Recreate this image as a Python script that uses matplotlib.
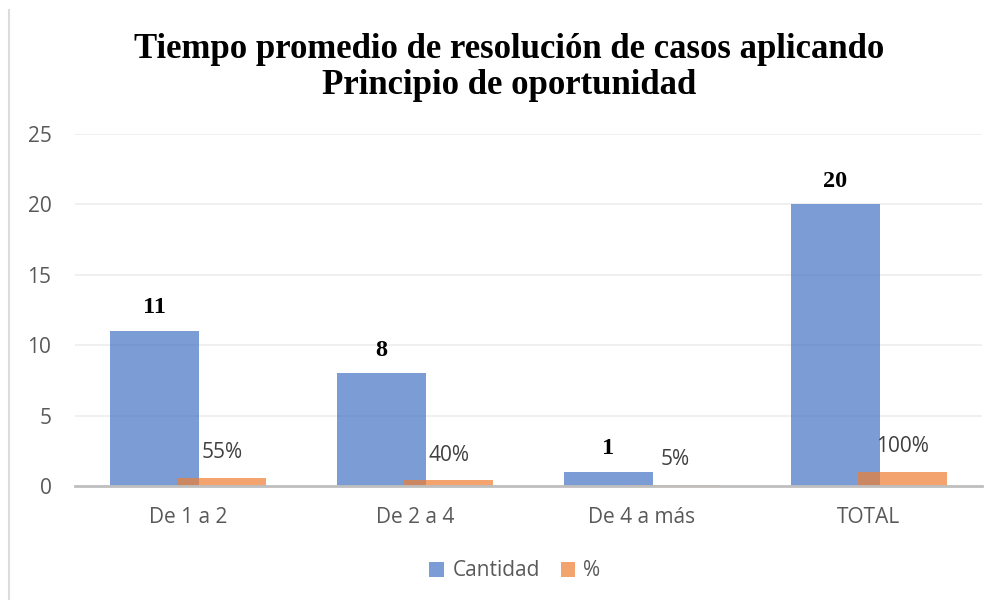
import numpy as np
import matplotlib.pyplot as plt
from matplotlib.lines import Line2D

categorias = ['De 1 a 2', 'De 2 a 4', 'De 4 a más', 'TOTAL']
cantidad = [11, 8, 1, 20]
porcentaje = [0.55, 0.40, 0.05, 1.00]
etiquetas_pct = ['55%', '40%', '5%', '100%']
y_ticks = [0, 5, 10, 15, 20, 25]

azul = '#4472C4'
naranja = '#ED7D31'

fig = plt.figure(figsize=(9.97, 6), dpi=100)
ax = fig.add_axes([75 / 997, 1 - 486 / 600, 907 / 997, (486 - 134) / 600])

x = np.arange(len(categorias))
ancho = 0.392
desp = 0.1476

b1 = ax.bar(x - desp, cantidad, ancho, color=azul, alpha=0.7, zorder=2, label='Cantidad')
b2 = ax.bar(x + desp, porcentaje, ancho, color=naranja, alpha=0.7, zorder=3, label='%')

for xi, v in zip(x, cantidad):
    ax.text(xi - desp, v + 1.65, str(v), ha='center', va='center',
            family='Liberation Serif', fontweight='bold', fontsize=17.5, color='black')
for xi, v, t in zip(x, porcentaje, etiquetas_pct):
    ax.text(xi + desp, v + 1.8, t, ha='center', va='center',
            family='Open Sans', fontsize=15, color='#404040')

ax.set_xlim(-0.5, len(categorias) - 0.5)
ax.set_ylim(0, 25)
ax.set_yticks(y_ticks)
ax.set_xticks(x)
ax.set_xticklabels(categorias)
for lbl in ax.get_xticklabels() + ax.get_yticklabels():
    lbl.set_family('Open Sans')
    lbl.set_fontsize(15)
    lbl.set_color('#595959')
ax.tick_params(axis='both', length=0)
ax.tick_params(axis='x', pad=15)
ax.tick_params(axis='y', pad=17)

ax.grid(axis='y', color='#EDEDED', linewidth=1.2, zorder=0)
ax.set_axisbelow(True)
for s in ['top', 'right', 'left']:
    ax.spines[s].set_visible(False)
ax.spines['bottom'].set_color('#BFBFBF')
ax.spines['bottom'].set_linewidth(2)
ax.spines['bottom'].set_zorder(4)

fig.text(0.511, 1 - 50 / 600, 'Tiempo promedio de resolución de casos aplicando',
         ha='center', va='center', family='Liberation Serif', fontweight='bold', fontsize=25)
fig.text(0.511, 1 - 86 / 600, 'Principio de oportunidad',
         ha='center', va='center', family='Liberation Serif', fontweight='bold', fontsize=25)

leg = fig.legend(handles=[b1, b2], labels=['Cantidad', '%'], loc='center',
                 bbox_to_anchor=(515 / 997, 1 - 571 / 600), ncol=2, frameon=False,
                 prop={'family': 'Open Sans', 'size': 15}, handlelength=0.7,
                 handleheight=0.7, handletextpad=0.4, columnspacing=1.0)
for t in leg.get_texts():
    t.set_color('#595959')

# borde izquierdo del gráfico
fig.add_artist(Line2D([9 / 997, 9 / 997], [0, 1 - 10 / 600], color='#DCDCDC', linewidth=1.5))

fig.savefig('out.png', dpi=100)
